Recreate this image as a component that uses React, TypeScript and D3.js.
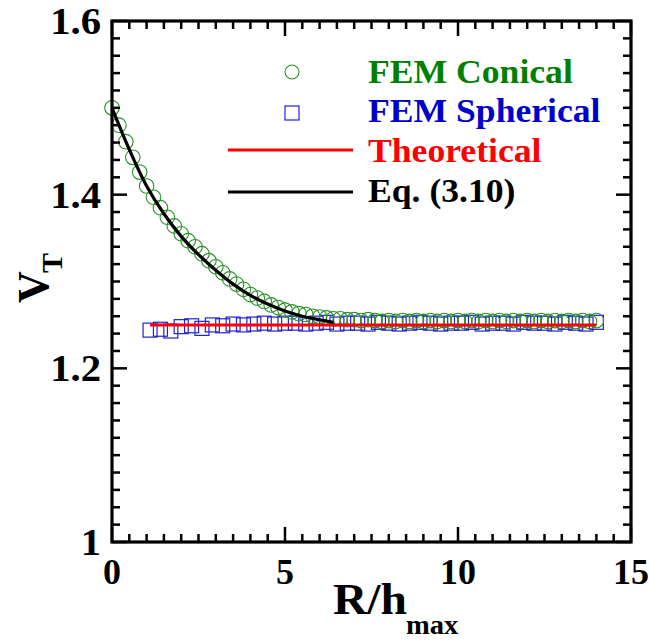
import React from "react";
import * as d3 from "d3";

const conicalX = [0.0,0.2,0.4,0.6,0.8,1.0,1.2,1.4,1.6,1.8,2.0,2.2,2.4,2.6,2.8,3.0,3.2,3.4,3.6,3.8,4.0,4.2,4.4,4.6,4.8,5.0,5.2,5.4,5.6,5.8,6.0,6.2,6.4,6.6,6.8,7.0,7.2,7.4,7.6,7.8,8.0,8.2,8.4,8.6,8.8,9.0,9.2,9.4,9.6,9.8,10.0,10.2,10.4,10.6,10.8,11.0,11.2,11.4,11.6,11.8,12.0,12.2,12.4,12.6,12.8,13.0,13.2,13.4,13.6,13.8,14.0];
const conicalV = [1.500,1.480,1.461,1.443,1.426,1.410,1.397,1.385,1.374,1.364,1.355,1.347,1.340,1.332,1.324,1.317,1.310,1.303,1.297,1.291,1.285,1.281,1.277,1.273,1.270,1.267,1.265,1.263,1.262,1.260,1.259,1.258,1.257,1.257,1.256,1.256,1.255,1.256,1.255,1.254,1.255,1.254,1.255,1.254,1.255,1.254,1.255,1.254,1.255,1.254,1.255,1.254,1.255,1.254,1.255,1.254,1.255,1.254,1.255,1.254,1.255,1.254,1.255,1.254,1.255,1.254,1.255,1.254,1.255,1.254,1.255];

const sphericalX = [1.1,1.4,1.7,2.0,2.3,2.6,2.9,3.2,3.5,3.8,4.1,4.4,4.7,5.0,5.3,5.6,5.9,6.2,6.5,6.8,7.1,7.4,7.7,8.0,8.3,8.6,8.9,9.2,9.5,9.8,10.1,10.4,10.7,11.0,11.3,11.6,11.9,12.2,12.5,12.8,13.1,13.4,13.7,14.0];
const sphericalV = [1.244,1.245,1.243,1.248,1.249,1.246,1.250,1.249,1.251,1.250,1.251,1.252,1.251,1.252,1.252,1.251,1.252,1.253,1.251,1.252,1.252,1.251,1.253,1.252,1.251,1.252,1.253,1.252,1.251,1.252,1.252,1.253,1.251,1.252,1.252,1.251,1.253,1.252,1.252,1.251,1.253,1.252,1.251,1.253];

const theoryX = [1.1, 14.0];
const theoryV = [1.25, 1.25];

const eqX = [0,0.5,1.0,1.5,2.0,2.5,3.0,3.5,4.0,4.5,5.0,5.5,6.0,6.4];
const eqV = [1.500,1.452,1.410,1.378,1.352,1.331,1.313,1.297,1.284,1.274,1.266,1.260,1.256,1.253];

const xMajor = [0, 5, 10, 15];
const xMajorLabels = ["0", "5", "10", "15"];
const yMajor = [1.0, 1.2, 1.4, 1.6];
const yMajorLabels = ["1", "1.2", "1.4", "1.6"];

const legendLabels = ["FEM Conical", "FEM Spherical", "Theoretical", "Eq. (3.10)"];
const legendColors = ["#008000", "#0000cc", "#ff0000", "#000000"];

const FONT = "'Liberation Serif', 'Times New Roman', serif";

export default function App() {
  const L = 112, R = 631, T = 21, B = 542;
  const x = d3.scaleLinear().domain([0, 15]).range([L, R]);
  const y = d3.scaleLinear().domain([1, 1.6]).range([B, T]);

  const xMinor = d3.range(0, 15.001, 0.5).filter((v) => Math.abs(v / 5 - Math.round(v / 5)) > 1e-6);
  const yMinor = d3.range(1, 1.6001, 0.02).filter((v) => Math.abs((v - 1) / 0.2 - Math.round((v - 1) / 0.2)) > 1e-6);

  const lineGen = d3.line<[number, number]>().x((d) => x(d[0])).y((d) => y(d[1]));
  const eqLine = d3.line<[number, number]>().x((d) => x(d[0])).y((d) => y(d[1])).curve(d3.curveCatmullRom);

  const theoryPts = theoryX.map((v, i) => [v, theoryV[i]] as [number, number]);
  const eqPts = eqX.map((v, i) => [v, eqV[i]] as [number, number]);

  const sx = 1.08;
  const legendBase = [83, 122, 162, 202];

  return (
    <svg width={649} height={642} style={{ position: "absolute", left: 0, top: 0, background: "#fff" }}>
      <rect x={0} y={0} width={649} height={642} fill="#fff" />
      {sphericalX.map((v, i) => (
        <rect key={"s" + i} x={x(v) - 7} y={y(sphericalV[i]) - 7} width={14} height={14} fill="none" stroke="#2222d0" strokeWidth={1.2} />
      ))}
      {conicalX.map((v, i) => (
        <circle key={"c" + i} cx={x(v)} cy={y(conicalV[i])} r={7.3} fill="none" stroke="#2a922a" strokeWidth={1.1} />
      ))}
      <path d={lineGen(theoryPts) || ""} fill="none" stroke="#ff0000" strokeWidth={3} />
      <path d={eqLine(eqPts) || ""} fill="none" stroke="#000" strokeWidth={3.2} />

      <g stroke="#000" strokeWidth={2.5}>
        {xMajor.map((v) => (
          <g key={"xM" + v}>
            <line x1={x(v)} x2={x(v)} y1={B} y2={B - 15} />
            <line x1={x(v)} x2={x(v)} y1={T} y2={T + 15} />
          </g>
        ))}
        {xMinor.map((v) => (
          <g key={"xm" + v}>
            <line x1={x(v)} x2={x(v)} y1={B} y2={B - 8} />
            <line x1={x(v)} x2={x(v)} y1={T} y2={T + 8} />
          </g>
        ))}
        {yMajor.map((v) => (
          <g key={"yM" + v}>
            <line x1={L} x2={L + 15} y1={y(v)} y2={y(v)} />
            <line x1={R} x2={R - 15} y1={y(v)} y2={y(v)} />
          </g>
        ))}
        {yMinor.map((v) => (
          <g key={"ym" + v}>
            <line x1={L} x2={L + 8} y1={y(v)} y2={y(v)} />
            <line x1={R} x2={R - 8} y1={y(v)} y2={y(v)} />
          </g>
        ))}
      </g>
      <rect x={L} y={T} width={R - L} height={B - T} fill="none" stroke="#000" strokeWidth={3.2} />

      <g fontFamily={FONT} fontWeight="bold" fontSize={36} fill="#000">
        {xMajor.map((v, i) => (
          <text key={"xl" + v} x={x(v)} y={584} textAnchor="middle">{xMajorLabels[i]}</text>
        ))}
        {yMajor.map((v, i) => (
          <text key={"yl" + v} transform={`translate(101,${y(v) + 13}) scale(1.1,1)`} fontSize={37} textAnchor="end">{yMajorLabels[i]}</text>
        ))}
      </g>

      <g fontFamily={FONT} fontWeight="bold" fill="#000">
        <text transform={`translate(333,614) scale(${sx},1)`} fontSize={44}>R/h</text>
        <text transform={`translate(406,634) scale(1.02,1)`} fontSize={28}>max</text>
        <g transform="translate(48,303) rotate(-90)">
          <text x={0} y={0} fontSize={44}>V</text>
          <text x={30} y={14} fontSize={30}>T</text>
        </g>
      </g>

      <circle cx={292} cy={72} r={7} fill="none" stroke="#2a922a" strokeWidth={1.1} />
      <rect x={285} y={106} width={14} height={14} fill="none" stroke="#2222d0" strokeWidth={1.2} />
      <line x1={228} x2={353} y1={150} y2={150} stroke="#ff0000" strokeWidth={3} />
      <line x1={228} x2={353} y1={192} y2={192} stroke="#000" strokeWidth={3} />
      <g fontFamily={FONT} fontWeight="bold" fontSize={33}>
        {legendLabels.map((t, i) => (
          <text key={t} transform={`translate(368,${legendBase[i]}) scale(${sx},1)`} fill={legendColors[i]}>{t}</text>
        ))}
      </g>
    </svg>
  );
}
